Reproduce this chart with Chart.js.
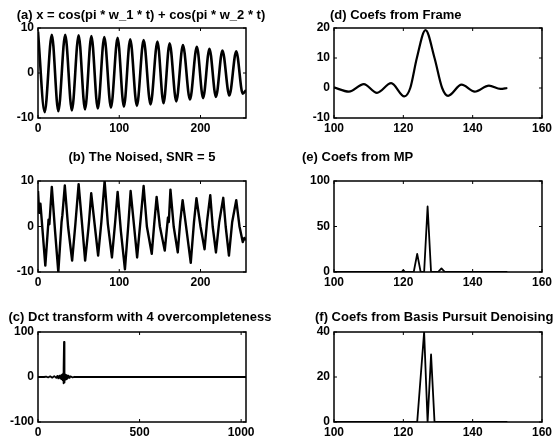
<!DOCTYPE html>
<html><head><meta charset="utf-8">
<script src="https://cdn.jsdelivr.net/npm/chart.js@4.4.1/dist/chart.umd.min.js"></script>
<style>
html,body{margin:0;padding:0;background:#fff;}
#wrap{position:relative;width:555px;height:444px;overflow:hidden;background:#fff;}
canvas{position:absolute;left:0;top:0;}
</style></head><body><div id="wrap"></div>
<script>
// ---------- data ----------
// (a) clean signal: start, alternating troughs/peaks, end
const aX = [0, 8.2, 17, 25, 33.5, 41.7, 50, 57.9, 65.7, 73.6, 81.6, 89.8, 98, 105.7, 113.5, 121.7, 130, 138.5, 147, 154.5, 162, 170.2, 178.4, 187, 195.5, 203.2, 211, 219, 227, 235.5, 244, 252, 256];
const aY = [9.2, -8.7, 8.5, -8.5, 8.5, -8.3, 8.4, -8.1, 8.2, -7.9, 8.0, -7.7, 7.8, -7.5, 7.5, -7.3, 7.3, -7.0, 7.0, -6.7, 6.6, -6.3, 6.2, -5.9, 5.8, -5.6, 5.4, -5.3, 5.0, -5.0, 4.8, -4.6, -3.8];
// (b) noised signal
const bX = [0, 1.5, 3, 9, 13, 14, 17, 21, 25, 29, 30, 33, 37, 42, 46, 50, 54, 58, 62, 63, 65.5, 70, 74, 78, 82, 86, 91, 95, 98, 102, 107, 111, 114, 118, 122, 126, 130, 134, 140, 143, 146, 150, 156, 160, 161, 163, 167, 172, 175, 178, 183, 188, 192, 195, 200, 205, 208, 212, 215, 219, 223, 228, 231, 235, 239, 244, 248, 252, 254, 256];
const bY = [7.8, 3, 5, -8.6, 1.5, 0.5, 8.7, -1, -10, 1, 2.5, 9, 0, -7.5, 0.5, 9.3, 1, -7.5, -0.5, 1.5, 7.3, 0, -6.4, 1, 10, 0.5, -6.8, 1, 7.6, -1, -9.4, 0, 7.8, 0.5, -6.8, 1, 8.9, 0, -6, 0.5, 6.5, 0, -5.3, 2, 1, 8.1, 0, -5.7, 1, 5.8, -1, -8, 1, 6.2, 0, -5, 1, 6.9, 0, -5.7, 1, 6.3, 0, -6.4, 1, 5.8, 0, -3.4, -2.5, -3];
// (c) DCT coefficients
const cX = [0, 30, 40, 50, 60, 70, 80, 90, 95, 100, 105, 110, 114, 117, 120, 122, 124, 125, 126, 127, 128, 129, 130, 131, 132, 134, 136, 139, 142, 146, 150, 155, 160, 170, 180, 200, 1024];
const cY = [0, 0, 1, -1, 1.5, -1.5, 2, -2, 2.5, -3, 3, -3.5, 4, -5, 6, -7, 8, -9, -14, 20, 78, -12, 9, -8, 7, -6, 5, -4.5, 4, -3, 3, -2, 1.5, -1, 0.5, 0, 0];
// (d) coefs from frame
const dX = [100, 104.3, 108.6, 112.4, 116.5, 120.3, 122, 123.9, 126.4, 129, 131.2, 132.9, 136.8, 140.6, 144.7, 148, 150];
const dY = [0.2, -1.2, 1.3, -1.6, 1.6, -2.8, 0, 10, 19.3, 10, 0, -2.6, 1.1, -1.2, 0.8, -0.3, 0];
// (e) coefs from MP
const eX = [100, 119.5, 120, 120.5, 123, 124, 125, 126, 127, 128, 130, 131, 132, 150];
const eY = [0, 0, 2, 0, 0, 20, 0, 0, 72, 0, 0, 4, 0, 0];
// (f) coefs from basis pursuit denoising
const fX = [100, 124, 126, 127, 128, 129, 150];
const fY = [0, 0, 40, 0, 30, 0, 0];

// tick values
const ticksSignalX = [0, 100, 200];
const ticksSignalY = [-10, 0, 10];
const ticksDctX = [0, 500, 1000];
const ticksDctY = [-100, 0, 100];
const ticksCoefX = [100, 120, 140, 160];
const ticksFrameY = [-10, 0, 10, 20];
const ticksMPY = [0, 50, 100];
const ticksBPY = [0, 20, 40];

const titles = [
  "(a) x = cos(pi * w_1 * t) + cos(pi * w_2 * t)",
  "(b) The Noised, SNR = 5",
  "(c) Dct transform with 4 overcompleteness",
  "(d) Coefs from Frame",
  "(e) Coefs from MP",
  "(f) Coefs from Basis Pursuit Denoising"
];

// ---------- layout ----------
const W = 555, H = 444, YW = 36, XH = 18;
const panels = [
  {t:titles[0], xs:aX, ys:aY, xr:[0,256], yr:[-10,10], xt:ticksSignalX, yt:ticksSignalY, box:{l:38,t:28,r:246,b:118}, ttl:{x:141,y:15,al:'center'}, mode:'monotone', lw:2.6},
  {t:titles[1], xs:bX, ys:bY, xr:[0,256], yr:[-10,10], xt:ticksSignalX, yt:ticksSignalY, box:{l:38,t:181,r:246,b:272}, ttl:{x:142,y:157,al:'center'}, mode:'line', lw:2.4},
  {t:titles[2], xs:cX, ys:cY, xr:[0,1024], yr:[-100,100], xt:ticksDctX, yt:ticksDctY, box:{l:38,t:332,r:246,b:422}, ttl:{x:140,y:317,al:'center'}, mode:'line', lw:1.8},
  {t:titles[3], xs:dX, ys:dY, xr:[100,160], yr:[-10,20], xt:ticksCoefX, yt:ticksFrameY, box:{l:334,t:28,r:542,b:118}, ttl:{x:330,y:15,al:'left'}, mode:'monotone', lw:2.2},
  {t:titles[4], xs:eX, ys:eY, xr:[100,160], yr:[0,100], xt:ticksCoefX, yt:ticksMPY, box:{l:334,t:181,r:542,b:272}, ttl:{x:302,y:157,al:'left'}, mode:'line', lw:1.8},
  {t:titles[5], xs:fX, ys:fY, xr:[100,160], yr:[0,40], xt:ticksCoefX, yt:ticksBPY, box:{l:334,t:332,r:542,b:422}, ttl:{x:315,y:317,al:'left'}, mode:'line', lw:1.8}
];

const TICKFONT = {family:'"Liberation Sans", Arial, sans-serif', size:12, weight:'bold'};

const framePlugin = {
  id:'frame',
  afterDatasetsDraw(chart, args, opts){
    const {ctx, chartArea:a, scales} = chart;
    ctx.save();
    ctx.strokeStyle = '#000';
    ctx.lineWidth = 1.5;
    ctx.strokeRect(a.left, a.top, a.right - a.left, a.bottom - a.top);
    ctx.lineWidth = 1;
    const L = 3;
    scales.x.ticks.forEach(tk => {
      const px = scales.x.getPixelForValue(tk.value);
      ctx.beginPath();
      ctx.moveTo(px, a.bottom); ctx.lineTo(px, a.bottom - L);
      ctx.moveTo(px, a.top); ctx.lineTo(px, a.top + L);
      ctx.stroke();
    });
    scales.y.ticks.forEach(tk => {
      const py = scales.y.getPixelForValue(tk.value);
      ctx.beginPath();
      ctx.moveTo(a.left, py); ctx.lineTo(a.left + L, py);
      ctx.moveTo(a.right, py); ctx.lineTo(a.right - L, py);
      ctx.stroke();
    });
    // title
    ctx.fillStyle = '#000';
    ctx.font = 'bold 13px "Liberation Sans", Arial, sans-serif';
    ctx.textAlign = opts.al;
    ctx.textBaseline = 'middle';
    ctx.fillText(opts.text, opts.x, opts.y);
    ctx.restore();
  }
};

const wrap = document.getElementById('wrap');
panels.forEach(p => {
  const cv = document.createElement('canvas');
  cv.width = W; cv.height = H;
  cv.style.width = W + 'px'; cv.style.height = H + 'px';
  wrap.appendChild(cv);
  new Chart(cv.getContext('2d'), {
    type:'line',
    data:{datasets:[{
      data: p.xs.map((x,i)=>({x:x, y:p.ys[i]})),
      borderColor:'#000', borderWidth:p.lw, pointRadius:0, fill:false,
      tension: p.mode === 'monotone' ? 0.4 : 0,
      cubicInterpolationMode: p.mode === 'monotone' ? 'monotone' : 'default',
      borderJoinStyle:'round'
    }]},
    options:{
      responsive:false, animation:false, events:[],
      layout:{padding:{left:p.box.l - YW, right:W - p.box.r, top:p.box.t, bottom:H - p.box.b - XH}},
      plugins:{legend:{display:false}, title:{display:false}, tooltip:{enabled:false},
        frame:{text:p.t, x:p.ttl.x, y:p.ttl.y, al:p.ttl.al}},
      scales:{
        x:{type:'linear', min:p.xr[0], max:p.xr[1],
           grid:{display:false, drawTicks:false}, border:{display:false},
           ticks:{padding:3, font:TICKFONT, color:'#000', maxRotation:0, autoSkip:false, callback:v=>String(v)},
           afterBuildTicks:s=>{ s.ticks = p.xt.map(v=>({value:v})); },
           afterFit:s=>{ s.height = XH; }},
        y:{type:'linear', min:p.yr[0], max:p.yr[1],
           grid:{display:false, drawTicks:false}, border:{display:false},
           ticks:{padding:4, font:TICKFONT, color:'#000', autoSkip:false, callback:v=>String(v)},
           afterBuildTicks:s=>{ s.ticks = p.yt.map(v=>({value:v})); },
           afterFit:s=>{ s.width = YW; }}
      }
    },
    plugins:[framePlugin]
  });
});
</script></body></html>
